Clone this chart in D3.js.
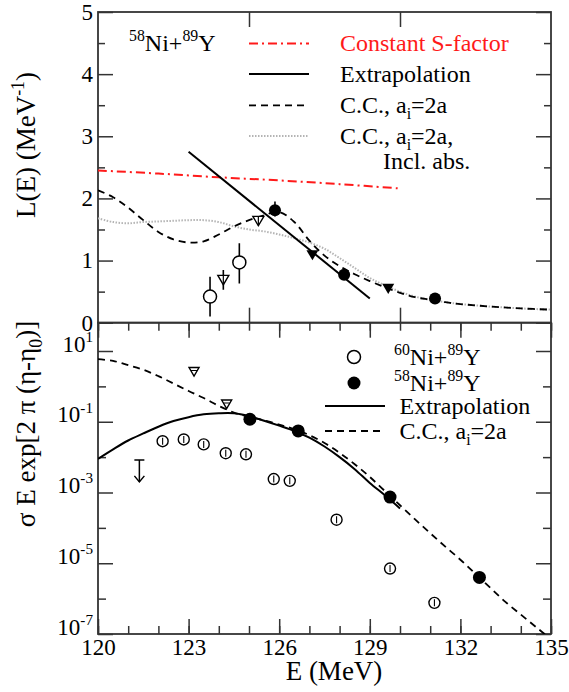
<!DOCTYPE html>
<html>
<head>
<meta charset="utf-8">
<script src="https://cdn.jsdelivr.net/npm/d3@7"></script>
<style>
  body { margin: 0; background: #fff; }
  svg { display: block; }
  text { font-family: 'Liberation Serif', 'Times New Roman', serif; }
</style>
</head>
<body>
<div id="chart"></div>
<script>
// ---- data ----
var energyRange = [120, 135];

// upper panel, L(E) in MeV^-1
var constSFactor = [[120,2.45],[122,2.40],[124,2.34],[126,2.29],[128,2.23],[130,2.16]];
var extrapTop = [[123.0,2.75],[129.0,0.39]];
var ccTop = [[120,2.13],[120.5,2.02],[121,1.85],[121.5,1.65],[122,1.46],[122.5,1.34],[123,1.29],
  [123.5,1.31],[124,1.42],[124.5,1.55],[125,1.65],[125.5,1.73],[126,1.78],[126.5,1.62],[127,1.32],
  [127.5,1.08],[128,0.91],[128.5,0.78],[129,0.67],[129.5,0.57],[130,0.48],[130.5,0.41],[131,0.37],
  [131.5,0.33],[132,0.30],[133,0.26],[134,0.23],[135,0.21]];
var ccAbsTop = [[120,1.68],[120.5,1.62],[121,1.60],[121.5,1.62],[122,1.63],[122.5,1.64],[123,1.65],
  [123.5,1.65],[124,1.62],[124.5,1.55],[125,1.50],[125.5,1.47],[126,1.42],[126.5,1.36],[127,1.29],
  [127.5,1.19],[128,1.04],[128.5,0.88],[129,0.72],[129.5,0.60],[130,0.50],[130.5,0.42],[131,0.37],
  [131.5,0.33],[132,0.30],[133,0.26],[134,0.23],[135,0.21]];
// [E, L, low, high]
var openCirclesTop = [[123.71,0.42,0.10,0.74],[124.68,0.97,0.63,1.28]];
var openTrianglesTop = [[124.15,0.69,0.53,0.85],[125.31,1.64,1.57,1.71]];
var filledCirclesTop = [[125.86,1.81,1.71,1.95],[128.15,0.77],[131.16,0.39]];
var filledTrianglesTop = [[127.1,1.09],[129.61,0.55]];

// lower panel, log10 of sigma E exp[2 pi (eta-eta0)]
var extrapBotLog = [[120,-2.05],[120.5,-1.78],[121,-1.53],[121.5,-1.33],[122,-1.14],[122.5,-0.98],
  [123,-0.87],[123.5,-0.79],[124,-0.76],[124.5,-0.76],[125,-0.84],[125.5,-0.97],[126,-1.11],
  [126.5,-1.26],[127,-1.45],[127.5,-1.70],[128,-2.00],[128.5,-2.34],[129,-2.73],[129.5,-3.08],[130,-3.45]];
var ccBotLog = [[120,0.77],[120.5,0.72],[121,0.60],[121.5,0.47],[122,0.29],[122.5,0.08],[123,-0.13],
  [123.5,-0.33],[124,-0.55],[124.5,-0.74],[125,-0.86],[125.5,-0.96],[126,-1.08],[126.5,-1.21],
  [127,-1.38],[127.5,-1.60],[128,-1.88],[128.5,-2.20],[129,-2.56],[129.5,-2.96],[130,-3.36],
  [130.5,-3.76],[131,-4.15],[131.5,-4.53],[132,-4.90],[132.5,-5.30],[133,-5.70],[133.5,-6.10],
  [134,-6.45],[134.5,-6.80],[135,-7.15]];
var ni60BotLog = [[122.14,-1.55],[122.84,-1.50],[123.5,-1.64],[124.23,-1.89],[124.9,-1.92],
  [125.82,-2.62],[126.35,-2.67],[127.9,-3.77],[129.67,-5.15],[131.14,-6.12]];
var ni58BotLog = [[125.03,-0.93],[126.63,-1.26],[129.67,-3.13],[132.63,-5.40]];
var trianglesBotLog = [[123.18,0.42],[124.26,-0.50]];
var upperLimitBotLog = [[121.37,-2.08,-2.70]];

var topTicks = [0,1,2,3,4,5];
var topMinor = [0.5,1.5,2.5,3.5,4.5];
var logMajor = [1,-1,-3,-5,-7];
var logMinor = [0,-2,-4,-6];
var eMajorBot = [120,123,126,129,132,135];
var eMinorBot = d3.range(120, 136);
var eMajorTop = [125,130];

// ---- layout ----
var W = 569, H = 692;
var plotL = 98, plotR = 551, plotT = 12, plotM = 322.7, plotB = 634;
var ink = "#333";

var x = d3.scaleLinear().domain(energyRange).range([plotL, plotR]);
var yTop = d3.scaleLinear().domain([0, 5]).range([plotM, plotT]);
var yBot = d3.scaleLog().domain([1e-7, Math.pow(10, 1.8)]).range([plotB, plotM]);
var p10 = function(v) { return Math.pow(10, v); };

var svg = d3.select("#chart").append("svg").attr("width", W).attr("height", H);

var defs = svg.append("defs");
defs.append("clipPath").attr("id", "clipTop").append("rect")
  .attr("x", plotL).attr("y", plotT).attr("width", plotR - plotL).attr("height", plotM - plotT);
defs.append("clipPath").attr("id", "clipBot").append("rect")
  .attr("x", plotL).attr("y", plotM).attr("width", plotR - plotL).attr("height", plotB - plotM);

// rich text with super/subscripts
function rich(sel, parts, size) {
  var shift = 0;
  parts.forEach(function(p) {
    var s = p.sup ? -0.42 * size : (p.sub ? 0.25 * size : 0);
    var ts = sel.append("tspan").text(p.t).attr("dy", s - shift);
    if (p.sup || p.sub) ts.attr("font-size", size * 0.66);
    shift = s;
  });
  return sel;
}

function axisG(axis, tx, ty) {
  var g = svg.append("g").attr("transform", "translate(" + tx + "," + ty + ")").call(axis);
  g.select(".domain").remove();
  g.selectAll("line").attr("stroke", ink).attr("stroke-width", 1.5);
  g.selectAll("text").attr("font-family", null).attr("font-size", 23).attr("fill", "#000");
  return g;
}

// ---- upper panel axes ----
axisG(d3.axisLeft(yTop).tickValues(topTicks).tickSize(-15).tickPadding(5).tickFormat(d3.format("d")), plotL, 0);
axisG(d3.axisLeft(yTop).tickValues(topMinor).tickSize(-7).tickFormat(""), plotL, 0);
axisG(d3.axisRight(yTop).tickValues(topTicks).tickSize(-15).tickFormat(""), plotR, 0);
axisG(d3.axisRight(yTop).tickValues(topMinor).tickSize(-7).tickFormat(""), plotR, 0);
axisG(d3.axisBottom(x).tickValues(eMajorTop).tickSize(-15).tickFormat(""), 0, plotM);
axisG(d3.axisTop(x).tickValues(eMajorTop).tickSize(-15).tickFormat(""), 0, plotT);

// ---- lower panel axes ----
axisG(d3.axisBottom(x).tickValues(eMajorBot).tickSize(-15).tickPadding(5).tickFormat(d3.format("d")), 0, plotB);
axisG(d3.axisBottom(x).tickValues(eMinorBot).tickSize(-8).tickFormat(""), 0, plotB);
axisG(d3.axisTop(x).tickValues(eMajorBot).tickSize(-15).tickFormat(""), 0, plotM);
axisG(d3.axisTop(x).tickValues(eMinorBot).tickSize(-8).tickFormat(""), 0, plotM);
var yl = axisG(d3.axisLeft(yBot).tickValues(logMajor.map(p10)).tickSize(-15).tickFormat(""), plotL, 0);
yl.selectAll(".tick").each(function(d) {
  var t = d3.select(this).append("text").attr("x", -5).attr("dy", "0.32em")
    .attr("text-anchor", "end").attr("font-size", 23).attr("fill", "#000");
  rich(t, [{t: "10"}, {t: String(Math.round(Math.log10(d))), sup: true}], 23);
});
axisG(d3.axisLeft(yBot).tickValues(logMinor.map(p10)).tickSize(-8).tickFormat(""), plotL, 0);
axisG(d3.axisRight(yBot).tickValues(logMajor.map(p10)).tickSize(-15).tickFormat(""), plotR, 0);
axisG(d3.axisRight(yBot).tickValues(logMinor.map(p10)).tickSize(-8).tickFormat(""), plotR, 0);

// frames
[[plotT, plotM], [plotM, plotB]].forEach(function(r) {
  svg.append("rect").attr("x", plotL).attr("y", r[0]).attr("width", plotR - plotL)
    .attr("height", r[1] - r[0]).attr("fill", "none").attr("stroke", ink).attr("stroke-width", 1.8);
});

// ---- axis titles ----
rich(svg.append("text").attr("transform", "translate(35,145) rotate(-90)")
  .attr("text-anchor", "middle").attr("font-size", 27),
  [{t: "L(E) (MeV"}, {t: "-1", sup: true}, {t: ")"}], 27);
rich(svg.append("text").attr("transform", "translate(35,424) rotate(-90)")
  .attr("text-anchor", "middle").attr("font-size", 27),
  [{t: "\u03c3 E exp[2 \u03c0 (\u03b7-\u03b7"}, {t: "0", sub: true}, {t: ")]"}], 27);
svg.append("text").attr("x", 334).attr("y", 680).attr("text-anchor", "middle")
  .attr("font-size", 27).text("E (MeV)");

// ---- upper panel curves ----
var lineTop = d3.line().x(function(d) { return x(d[0]); }).y(function(d) { return yTop(d[1]); })
  .curve(d3.curveCatmullRom);
var gTop = svg.append("g").attr("clip-path", "url(#clipTop)");
gTop.append("path").datum(ccAbsTop).attr("d", lineTop).attr("fill", "none")
  .attr("stroke", "#b4b4b4").attr("stroke-width", 2).attr("stroke-dasharray", "1.5,1.5");
gTop.append("path").datum(ccTop).attr("d", lineTop).attr("fill", "none")
  .attr("stroke", "#000").attr("stroke-width", 1.8).attr("stroke-dasharray", "7,5");
gTop.append("path").datum(constSFactor).attr("d", lineTop).attr("fill", "none")
  .attr("stroke", "#ff1a1a").attr("stroke-width", 2).attr("stroke-dasharray", "9,4,2,4");
gTop.append("path").datum(extrapTop).attr("d", d3.line().x(function(d) { return x(d[0]); })
  .y(function(d) { return yTop(d[1]); })).attr("fill", "none").attr("stroke", "#000").attr("stroke-width", 2);

// error bars
function errBars(g, data, ys) {
  g.selectAll(null).data(data.filter(function(d) { return d.length > 2; })).enter().append("line")
    .attr("x1", function(d) { return x(d[0]); }).attr("x2", function(d) { return x(d[0]); })
    .attr("y1", function(d) { return ys(d[2]); }).attr("y2", function(d) { return ys(d[3]); })
    .attr("stroke", "#000").attr("stroke-width", 1.6);
}
errBars(gTop, openCirclesTop, yTop);
errBars(gTop, openTrianglesTop, yTop);
errBars(gTop, filledCirclesTop, yTop);

function triPath(cx, cy, s) {
  return "M" + (cx - s) + "," + (cy - s * 0.8) + "L" + (cx + s) + "," + (cy - s * 0.8) +
    "L" + cx + "," + (cy + s * 0.9) + "Z";
}

gTop.selectAll(null).data(openCirclesTop).enter().append("circle")
  .attr("cx", function(d) { return x(d[0]); }).attr("cy", function(d) { return yTop(d[1]); })
  .attr("r", 6.5).attr("fill", "#fff").attr("stroke", "#000").attr("stroke-width", 1.5);
gTop.selectAll(null).data(openTrianglesTop).enter().append("path")
  .attr("d", function(d) { return triPath(x(d[0]), yTop(d[1]), 5.5); })
  .attr("fill", "#fff").attr("stroke", "#000").attr("stroke-width", 1.4);
gTop.selectAll(null).data(openTrianglesTop).enter().append("line")
  .attr("x1", function(d) { return x(d[0]); }).attr("x2", function(d) { return x(d[0]); })
  .attr("y1", function(d) { return yTop(d[1]) - 4; }).attr("y2", function(d) { return yTop(d[1]) + 4; })
  .attr("stroke", "#000").attr("stroke-width", 1.2);
gTop.selectAll(null).data(filledCirclesTop).enter().append("circle")
  .attr("cx", function(d) { return x(d[0]); }).attr("cy", function(d) { return yTop(d[1]); })
  .attr("r", 6).attr("fill", "#000");
gTop.selectAll(null).data(filledTrianglesTop).enter().append("path")
  .attr("d", function(d) { return triPath(x(d[0]), yTop(d[1]), 6); }).attr("fill", "#000");

// ---- upper legend ----
var legX1 = 249, legX2 = 309, legTx = 340, fs = 24;
rich(svg.append("text").attr("x", 129).attr("y", 51).attr("font-size", fs),
  [{t: "58", sup: true}, {t: "Ni+"}, {t: "89", sup: true}, {t: "Y"}], fs);
var topLegend = [
  {cy: 43.4, stroke: "#ff1a1a", dash: "9,4,2,4", w: 2, color: "#ff1a1a", parts: [{t: "Constant S-factor"}]},
  {cy: 74, stroke: "#000", dash: null, w: 2, color: "#000", parts: [{t: "Extrapolation"}]},
  {cy: 105.4, stroke: "#000", dash: "7,5", w: 1.8, color: "#000", parts: [{t: "C.C., a"}, {t: "i", sub: true}, {t: "=2a"}]},
  {cy: 136.1, stroke: "#b4b4b4", dash: "1.5,1.5", w: 2, color: "#000", parts: [{t: "C.C., a"}, {t: "i", sub: true}, {t: "=2a,"}]}
];
topLegend.forEach(function(l) {
  svg.append("line").attr("x1", legX1).attr("x2", legX2).attr("y1", l.cy).attr("y2", l.cy)
    .attr("stroke", l.stroke).attr("stroke-width", l.w).attr("stroke-dasharray", l.dash);
  rich(svg.append("text").attr("x", legTx).attr("y", l.cy + 8).attr("font-size", fs).attr("fill", l.color), l.parts, fs);
});
svg.append("text").attr("x", 383).attr("y", 169).attr("font-size", fs).text("Incl. abs.");

// ---- lower panel ----
var lineBot = d3.line().x(function(d) { return x(d[0]); }).y(function(d) { return yBot(p10(d[1])); })
  .curve(d3.curveCatmullRom);
var gBot = svg.append("g").attr("clip-path", "url(#clipBot)");
gBot.append("path").datum(ccBotLog).attr("d", lineBot).attr("fill", "none")
  .attr("stroke", "#000").attr("stroke-width", 1.8).attr("stroke-dasharray", "7,5");
gBot.append("path").datum(extrapBotLog).attr("d", lineBot).attr("fill", "none")
  .attr("stroke", "#000").attr("stroke-width", 2);

// upper limit marker
upperLimitBotLog.forEach(function(d) {
  var cx = x(d[0]), y1 = yBot(p10(d[1])), y2 = yBot(p10(d[2]));
  gBot.append("line").attr("x1", cx - 5).attr("x2", cx + 5).attr("y1", y1).attr("y2", y1).attr("stroke", "#000").attr("stroke-width", 1.5);
  gBot.append("line").attr("x1", cx).attr("x2", cx).attr("y1", y1).attr("y2", y2).attr("stroke", "#000").attr("stroke-width", 1.5);
  gBot.append("path").attr("d", "M" + (cx - 5) + "," + (y2 - 6) + "L" + cx + "," + y2 + "L" + (cx + 5) + "," + (y2 - 6))
    .attr("fill", "none").attr("stroke", "#000").attr("stroke-width", 1.5);
});

gBot.selectAll(null).data(ni60BotLog).enter().append("circle")
  .attr("cx", function(d) { return x(d[0]); }).attr("cy", function(d) { return yBot(p10(d[1])); })
  .attr("r", 5.5).attr("fill", "#fff").attr("stroke", "#000").attr("stroke-width", 1.4);
gBot.selectAll(null).data(ni60BotLog).enter().append("line")
  .attr("x1", function(d) { return x(d[0]); }).attr("x2", function(d) { return x(d[0]); })
  .attr("y1", function(d) { return yBot(p10(d[1])) - 3.5; }).attr("y2", function(d) { return yBot(p10(d[1])) + 3.5; })
  .attr("stroke", "#000").attr("stroke-width", 1.1);
gBot.selectAll(null).data(trianglesBotLog).enter().append("path")
  .attr("d", function(d) { return triPath(x(d[0]), yBot(p10(d[1])), 5); })
  .attr("fill", "#fff").attr("stroke", "#000").attr("stroke-width", 1.4);
gBot.selectAll(null).data(trianglesBotLog).enter().append("line")
  .attr("x1", function(d) { return x(d[0]) - 3; }).attr("x2", function(d) { return x(d[0]) + 3; })
  .attr("y1", function(d) { return yBot(p10(d[1])) - 1; }).attr("y2", function(d) { return yBot(p10(d[1])) - 1; })
  .attr("stroke", "#000").attr("stroke-width", 1.1);
gBot.selectAll(null).data(ni58BotLog).enter().append("circle")
  .attr("cx", function(d) { return x(d[0]); }).attr("cy", function(d) { return yBot(p10(d[1])); })
  .attr("r", 6.5).attr("fill", "#000");

// ---- lower legend ----
var bl = svg.append("g");
bl.append("circle").attr("cx", 354).attr("cy", 357).attr("r", 6.5).attr("fill", "#fff").attr("stroke", "#000").attr("stroke-width", 1.5);
bl.append("circle").attr("cx", 354).attr("cy", 383).attr("r", 6.5).attr("fill", "#000");
bl.append("line").attr("x1", 325).attr("x2", 385).attr("y1", 406).attr("y2", 406).attr("stroke", "#000").attr("stroke-width", 2);
bl.append("line").attr("x1", 325).attr("x2", 385).attr("y1", 431).attr("y2", 431).attr("stroke", "#000")
  .attr("stroke-width", 1.8).attr("stroke-dasharray", "7,5");
rich(bl.append("text").attr("x", 394).attr("y", 365).attr("font-size", fs),
  [{t: "60", sup: true}, {t: "Ni+"}, {t: "89", sup: true}, {t: "Y"}], fs);
rich(bl.append("text").attr("x", 394).attr("y", 391).attr("font-size", fs),
  [{t: "58", sup: true}, {t: "Ni+"}, {t: "89", sup: true}, {t: "Y"}], fs);
bl.append("text").attr("x", 399.5).attr("y", 414).attr("font-size", fs).text("Extrapolation");
rich(bl.append("text").attr("x", 399.5).attr("y", 439).attr("font-size", fs),
  [{t: "C.C., a"}, {t: "i", sub: true}, {t: "=2a"}], fs);
</script>
</body>
</html>
